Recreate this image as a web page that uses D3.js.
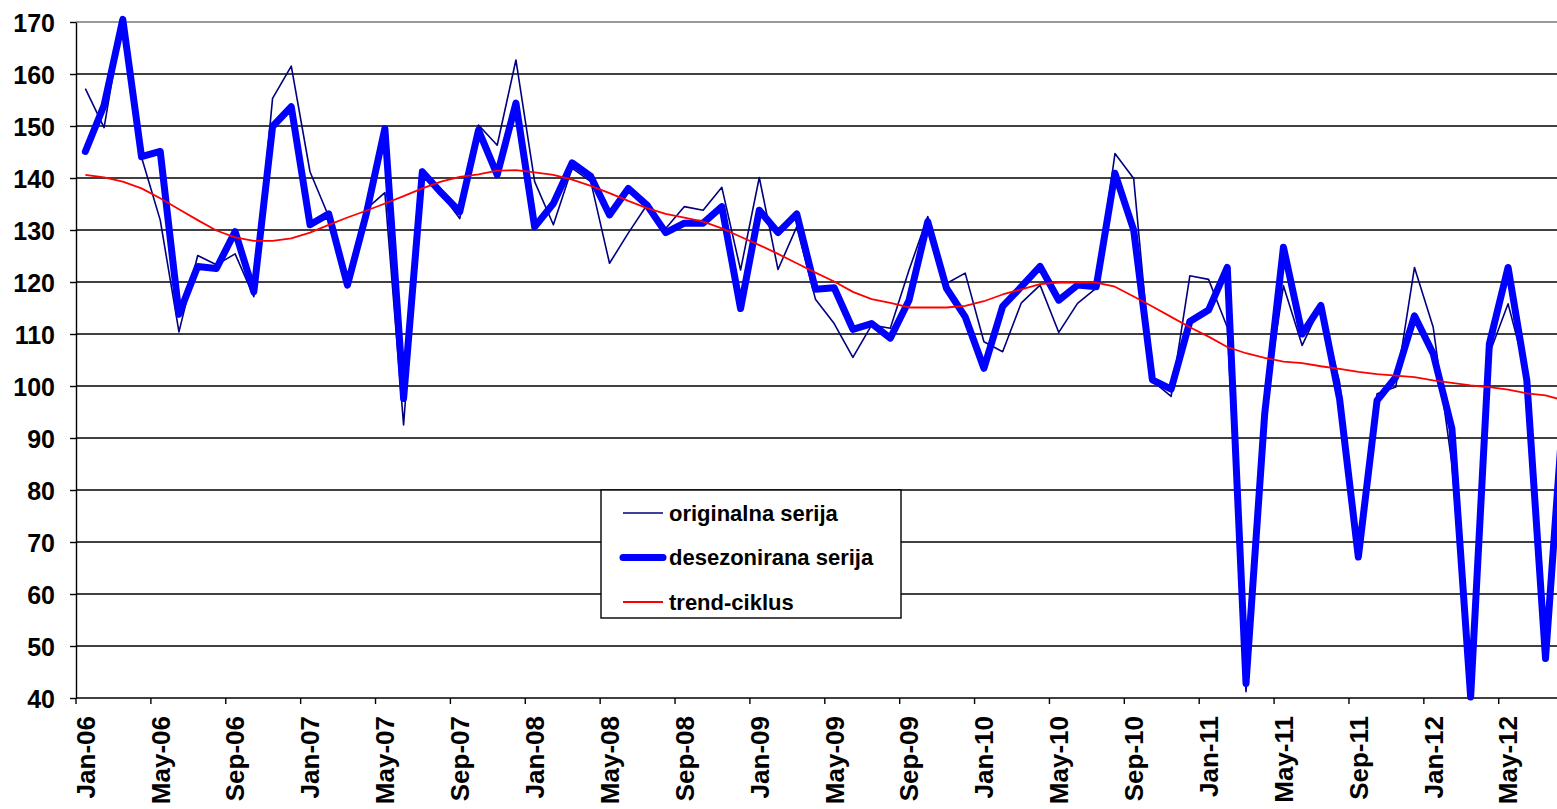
<!DOCTYPE html>
<html>
<head>
<meta charset="utf-8">
<script src="https://cdn.jsdelivr.net/npm/d3@7"></script>
<style>
  body { margin: 0; background: #fff; }
  svg { display: block; font-family: "Liberation Sans", Arial, sans-serif; font-weight: bold; }
  .grid line { stroke: #000; stroke-width: 1.4; }
  .axis path, .axis line { stroke: #000; stroke-width: 1.4; }
  .axis text { font-size: 25px; font-weight: bold; fill: #000; }
</style>
</head>
<body>
<svg id="chart"></svg>
<script>
// Categories: monthly, Jan-06 .. Aug-12
const months = d3.timeMonths(new Date(2006, 0, 1), new Date(2012, 8, 1));
const yTicks = [40, 50, 60, 70, 80, 90, 100, 110, 120, 130, 140, 150, 160, 170];

// originalna serija
const original = [
    157.2, 149.7, 171.0, 144.0, 131.9, 110.4, 125.1, 123.3, 125.4, 117.2, 155.3, 161.5,
    141.2, 132.6, 119.7, 134.0, 137.2, 92.5, 141.7, 137.0, 132.2, 150.2, 146.3, 162.7,
    139.3, 131.0, 141.9, 139.3, 123.6, 129.4, 134.8, 130.3, 134.5, 133.8, 138.2, 122.3,
    140.1, 122.4, 130.6, 116.7, 112.0, 105.5, 111.7, 111.1, 122.3, 132.6, 119.7, 121.7,
    108.5, 106.6, 116.0, 119.4, 110.3, 115.9, 118.8, 144.7, 139.9, 101.0, 98.0, 121.2,
    120.5, 111.3, 41.2, 95.0, 119.3, 107.8, 115.5, 100.7, 70.0, 98.5, 99.8, 122.8,
    111.3, 85.0, 40.5, 106.2, 115.8, 102.0, 49.0, 97.0
];

// desezonirana serija
const seasonal = [
    145.1, 154.0, 170.5, 144.1, 145.1, 113.8, 123.0, 122.6, 129.7, 118.1, 149.9, 153.7,
    131.0, 133.1, 119.4, 133.0, 149.5, 97.6, 141.2, 137.2, 133.5, 149.2, 140.6, 154.4,
    130.6, 135.1, 142.9, 140.3, 132.9, 138.0, 134.8, 129.5, 131.3, 131.3, 134.5, 114.9,
    133.8, 129.5, 133.1, 118.6, 118.9, 110.9, 112.0, 109.2, 116.5, 131.6, 118.8, 113.3,
    103.4, 115.3, 119.1, 123.0, 116.5, 119.4, 119.1, 140.9, 130.0, 101.2, 99.4, 112.4,
    114.6, 122.8, 42.8, 94.7, 126.7, 110.0, 115.5, 97.5, 67.1, 97.2, 101.7, 113.5,
    106.2, 91.8, 40.2, 108.1, 122.8, 101.1, 47.6, 98.0
];

// trend-ciklus
const trend = [
    140.6, 140.1, 139.3, 138.0, 136.1, 134.0, 131.9, 129.9, 128.6, 127.9, 127.9, 128.4,
    129.5, 131.0, 132.4, 133.7, 135.1, 136.5, 138.0, 139.3, 140.2, 140.7, 141.4, 141.5,
    141.1, 140.6, 139.7, 138.5, 137.1, 135.6, 134.2, 133.1, 132.4, 131.6, 130.3, 128.7,
    127.1, 125.4, 123.6, 121.8, 120.1, 118.1, 116.7, 116.0, 115.1, 115.1, 115.1, 115.4,
    116.3, 117.6, 118.6, 119.6, 119.9, 119.9, 119.9, 119.1, 117.2, 115.3, 113.3, 111.3,
    109.5, 107.5, 106.3, 105.4, 104.7, 104.4, 103.8, 103.3, 102.7, 102.3, 102.0, 101.7,
    101.1, 100.6, 100.1, 99.8, 99.3, 98.6, 98.2, 97.2
];

const seriesNames = ["originalna serija", "desezonirana serija", "trend-ciklus"];

// Layout
const width = 1557, height = 809;
const plot = { left: 76, top: 22, bottom: 698, step: 18.72 };

const svg = d3.select("#chart").attr("width", width).attr("height", height);

const x = d3.scaleBand()
    .domain(d3.range(months.length))
    .range([plot.left, plot.left + plot.step * months.length])
    .paddingInner(0).paddingOuter(0);

const y = d3.scaleLinear().domain([40, 170]).range([plot.bottom, plot.top]);

const fmt = d3.timeFormat("%b-%y");

// Horizontal gridlines
svg.append("g").attr("class", "grid")
    .selectAll("line")
    .data(yTicks.slice(1))
    .enter()
    .append("line")
    .attr("x1", plot.left)
    .attr("x2", width)
    .attr("y1", d => y(d))
    .attr("y2", d => y(d))
    .style("stroke", d => d === 170 ? "#777" : "#000");

// Y axis
const yAxis = svg.append("g").attr("class", "axis")
    .attr("transform", `translate(${plot.left},0)`)
    .call(d3.axisLeft(y).tickValues(yTicks).tickSize(6).tickSizeOuter(0).tickPadding(15));
yAxis.selectAll("text").attr("dy", "0.36em");

// X axis - ticks at month boundaries every 4 months, labels centred in band
const tickIdx = d3.range(0, months.length, 4);
const xAxis = svg.append("g").attr("class", "axis")
    .attr("transform", `translate(0,${plot.bottom})`);
xAxis.append("line")
    .attr("x1", plot.left).attr("x2", width)
    .attr("y1", 0).attr("y2", 0);
xAxis.selectAll(".tick")
    .data(tickIdx)
    .enter()
    .append("line")
    .attr("x1", d => x(d)).attr("x2", d => x(d))
    .attr("y1", 0).attr("y2", 6);
xAxis.selectAll("text")
    .data(tickIdx)
    .enter()
    .append("text")
    .attr("text-anchor", "end")
    .attr("dy", "0.36em")
    .style("font-size", "26px")
    .attr("transform", d => `translate(${x(d) + x.bandwidth() / 2},18) rotate(-90)`)
    .text(d => fmt(months[d]));

// Lines
const line = d3.line()
    .x((d, i) => x(i) + x.bandwidth() / 2)
    .y(d => y(d));

svg.append("path")
    .datum(original)
    .attr("fill", "none")
    .attr("stroke", "#000080")
    .attr("stroke-width", 1.6)
    .attr("stroke-linejoin", "round")
    .attr("d", line);

svg.append("path")
    .datum(seasonal)
    .attr("fill", "none")
    .attr("stroke", "#0000ff")
    .attr("stroke-width", 7)
    .attr("stroke-linejoin", "round")
    .attr("stroke-linecap", "round")
    .attr("d", line);

svg.append("path")
    .datum(trend)
    .attr("fill", "none")
    .attr("stroke", "#ff0000")
    .attr("stroke-width", 1.8)
    .attr("stroke-linejoin", "round")
    .attr("d", line);

// Legend
const legend = svg.append("g").attr("transform", "translate(601,490)");
legend.append("rect")
    .attr("width", 300).attr("height", 128)
    .attr("fill", "#fff").attr("stroke", "#000").attr("stroke-width", 1.4);

const legendStyles = [
    { color: "#000080", w: 1.6 },
    { color: "#0000ff", w: 7 },
    { color: "#ff0000", w: 1.8 }
];
const rows = legend.selectAll(".row")
    .data(seriesNames)
    .enter()
    .append("g")
    .attr("transform", (d, i) => `translate(0,${23 + i * 44.5})`);
rows.append("line")
    .attr("x1", 22).attr("x2", 62)
    .attr("y1", 0).attr("y2", 0)
    .attr("stroke", (d, i) => legendStyles[i].color)
    .attr("stroke-width", (d, i) => legendStyles[i].w)
    .attr("stroke-linecap", (d, i) => i === 1 ? "round" : "butt");
rows.append("text")
    .attr("x", 68)
    .attr("dy", "0.36em")
    .style("font-size", "22px")
    .style("font-weight", "bold")
    .text(d => d);
</script>
</body>
</html>
